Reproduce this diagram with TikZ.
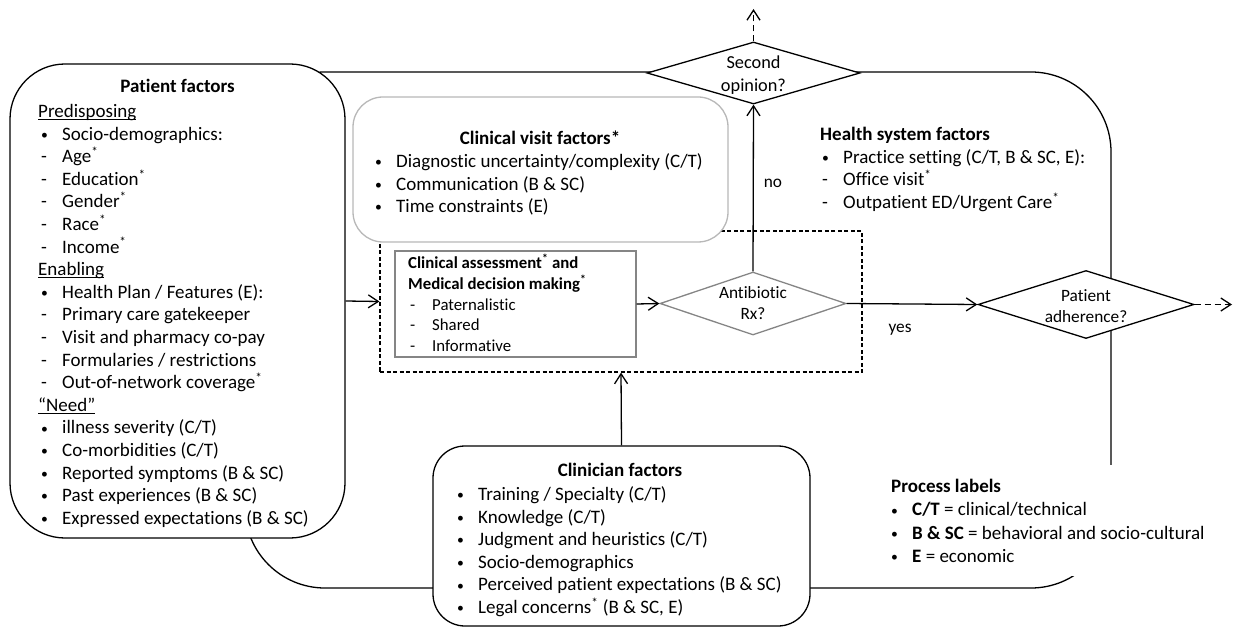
\documentclass[tikz,border=0pt]{standalone}
\usepackage{fontspec}
\setmainfont{Carlito}[Ligatures=NoCommon]
\usetikzlibrary{arrows.meta,shapes.geometric}

% text sizes
\newcommand\mainsize{\fontsize{19}{22.6}\selectfont}
\newcommand\asize{\fontsize{16.8}{20.5}\selectfont}
\newcommand\dsize{\fontsize{17.3}{21}\selectfont}
% a block of left-aligned lines whose baseline is the first line
\newcommand\blk[1]{\vtop{\halign{##\hfil\cr#1\crcr}}}
\newcommand\smbul{\raisebox{0.8pt}{\scalebox{0.72}{•}}}
\newcommand\bul[1]{\hspace*{3pt}\makebox[21pt][l]{\smbul}#1}
\newcommand\dsh[1]{\hspace*{3pt}\makebox[21pt][l]{-}#1}
\newcommand\adsh[1]{\hspace*{3pt}\makebox[22pt][l]{-}#1}
\newcommand\sast{\textsuperscript{*}}
\newcommand\undl[1]{\setbox0\hbox{#1}\rlap{\rule[-2.6pt]{\wd0}{1pt}}\box0}

\definecolor{midgray}{HTML}{858585}
\definecolor{lightgray}{HTML}{B8B8B8}

\begin{document}
\begin{tikzpicture}[x=1pt,y=-1pt,
  ln/.style={line width=1.3pt, draw=black},
  arr/.style={-{Straight Barb[length=10pt,width=13pt]}},
  box/.style={draw, ln, fill=white, inner sep=0pt},
  gbox/.style={draw=#1, line width=1.3pt, fill=white, inner sep=0pt},
  dia/.style={diamond, inner sep=0pt, fill=white},
  txt/.style={anchor=base west, inner sep=0pt},
]
\useasboundingbox (0,0) rectangle (1233,628);

% health system frame
\node[draw, ln, rounded corners=80pt, minimum width=866pt, minimum height=516pt, inner sep=0pt] (hsys) at (678,330) {};

% dashed decision frame
\node[draw, line width=1.2pt, dash pattern=on 4pt off 2.5pt, minimum width=482pt, minimum height=141pt, inner sep=0pt] (frame) at (621,301.5) {};

% legend backdrop
\node[fill=white, anchor=north west, minimum width=353pt, minimum height=111pt, inner sep=0pt] (legendbg) at (880,465) {};

% patient factors
\node[box, rounded corners=55pt, minimum width=335pt, minimum height=474pt] (patient) at (177.5,301) {};
\node[font=\mainsize\bfseries, inner sep=0pt] (ptitle) at (177.5,86) {Patient factors};
\node[txt] (ptext) at (38,117.5) {\mainsize\blk{%
\undl{Predisposing}\cr
\bul{Socio-demographics:}\cr
\dsh{Age\sast}\cr
\dsh{Education\sast}\cr
\dsh{Gender\sast}\cr
\dsh{Race\sast}\cr
\dsh{Income\sast}\cr
\undl{Enabling}\cr
\bul{Health Plan / Features (E):}\cr
\dsh{Primary care gatekeeper}\cr
\dsh{Visit and pharmacy co-pay}\cr
\dsh{Formularies / restrictions}\cr
\dsh{Out-of-network coverage\sast}\cr
\undl{“Need”}\cr
\bul{illness severity (C/T)}\cr
\bul{Co-morbidities (C/T)}\cr
\bul{Reported symptoms (B \& SC)}\cr
\bul{Past experiences (B \& SC)}\cr
\bul{Expressed expectations (B \& SC)}}};

% clinical visit factors
\node[gbox=lightgray, rounded corners=30pt, minimum width=375pt, minimum height=145pt] (visit) at (540.5,169.5) {};
\node[font=\mainsize\bfseries, inner sep=0pt] (vtitle) at (540,138) {Clinical visit factors*};
\node[txt] (vtext) at (372,167.5) {\mainsize\blk{%
\bul{Diagnostic uncertainty/complexity (C/T)}\cr
\bul{Communication (B \& SC)}\cr
\bul{Time constraints (E)}}};

% clinical assessment
\node[gbox=midgray, minimum width=241pt, minimum height=106pt] (assess) at (515.5,304) {};
\node[txt] (atext) at (407,269) {\asize\blk{%
\hspace*{1pt}\textbf{Clinical assessment\sast{} and}\cr
\hspace*{1pt}\textbf{Medical decision making\sast}\cr
\adsh{Paternalistic}\cr
\adsh{Shared}\cr
\adsh{Informative}}};

% decisions
\node[dia, draw=midgray, line width=1.3pt, minimum width=186pt, minimum height=63pt] (abx) at (753,303.5) {};
\node[font=\dsize, align=center, inner sep=0pt] (abxlbl) at (753,303.5) {Antibiotic\\Rx?};
\node[dia, ln, minimum width=213pt, minimum height=62pt] (second) at (753.5,73) {};
\node[font=\fontsize{18.3}{23}\selectfont, align=center, inner sep=0pt] (seclbl) at (753.5,75.5) {Second\\opinion?};
\node[dia, ln, minimum width=216pt, minimum height=68pt] (adh) at (1086,304.5) {};
\node[font=\dsize, align=center, inner sep=0pt] (adhlbl) at (1086,306.5) {Patient\\adherence?};

% health system factors
\node[txt] (hstext) at (819,140.5) {\mainsize\blk{%
\hspace*{1pt}\textbf{Health system factors}\cr
\bul{Practice setting (C/T, B \& SC, E):}\cr
\dsh{Office visit\sast}\cr
\dsh{Outpatient ED/Urgent Care\sast}}};

% clinician factors
\node[box, rounded corners=32pt, minimum width=377pt, minimum height=180pt] (clin) at (621.5,536) {};
\node[font=\mainsize\bfseries, inner sep=0pt] (ctitle) at (620,470) {Clinician factors};
\node[txt] (ctext) at (454,500.5) {\mainsize\blk{%
\bul{Training / Specialty (C/T)}\cr
\bul{Knowledge (C/T)}\cr
\bul{Judgment and heuristics (C/T)}\cr
\bul{Socio-demographics}\cr
\bul{Perceived patient expectations (B \& SC)}\cr
\bul{Legal concerns\sast{} (B \& SC, E)}}};

% process labels
\node[txt] (legend) at (888,492.5) {\fontsize{19}{23.3}\selectfont\blk{%
\hspace*{3pt}\textbf{Process labels}\cr
\bul{\textbf{C/T} = clinical/technical}\cr
\bul{\textbf{B \& SC} = behavioral and socio-cultural}\cr
\bul{\textbf{E} = economic}}};

% connectors
\coordinate (upend) at (753.5,9);
\coordinate (rightend) at (1232,304.5);
\draw[ln, arr] (patient.east) -- (frame.west);
\draw[ln, arr] (assess.east) -- (abx.west);
\draw[ln, arr] (abx.north) -- (second.south);
\draw[ln, arr] (abx.east) -- (adh.west);
\draw[ln, arr] (clin.north) -- (frame.south);
\draw[ln, arr, dash pattern=on 6pt off 4pt] (second.north) -- (upend);
\draw[ln, arr, dash pattern=on 6pt off 4pt] (adh.east) -- (rightend);

\node[font=\dsize, inner sep=0pt] (nolbl) at (773,183) {no};
\node[font=\dsize, inner sep=0pt] (yeslbl) at (900,330) {yes};
\end{tikzpicture}
\end{document}
